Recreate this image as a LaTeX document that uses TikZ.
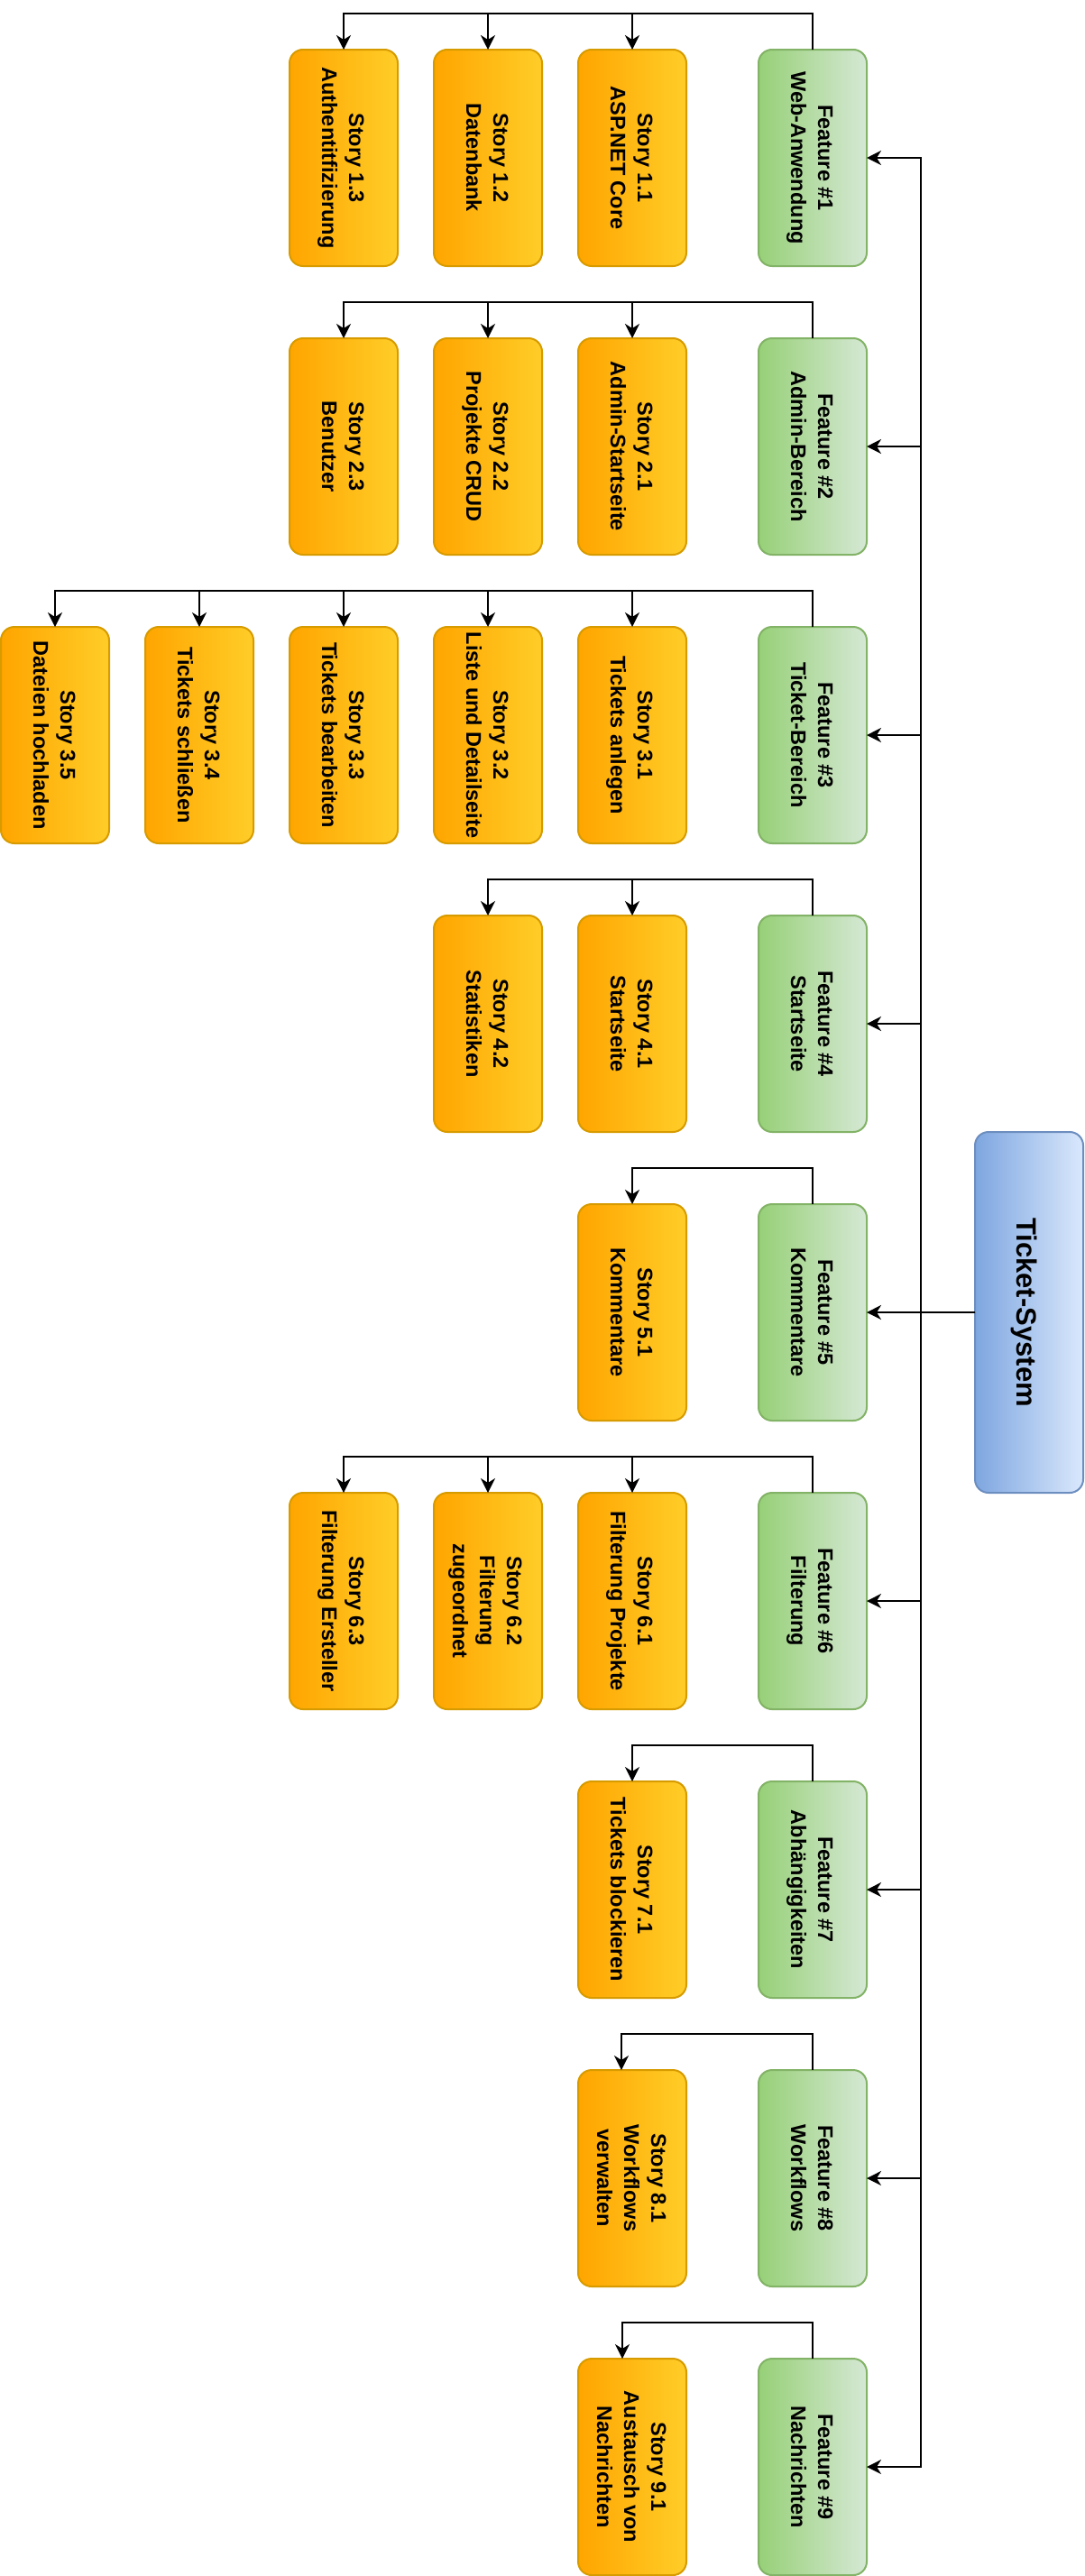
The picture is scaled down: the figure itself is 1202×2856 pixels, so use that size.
\documentclass[tikz,border=0pt]{standalone}
\usepackage{fontspec}
\setmainfont{Liberation Sans}
\usepackage{graphicx}
\usetikzlibrary{arrows.meta, positioning}
\definecolor{storylight}{HTML}{FFCD28}
\definecolor{storydark}{HTML}{FFA500}
\definecolor{storyline}{HTML}{D79B00}
\definecolor{featlight}{HTML}{D5E8D4}
\definecolor{featdark}{HTML}{97D077}
\definecolor{featline}{HTML}{82B366}
\definecolor{syslight}{HTML}{DAE8FC}
\definecolor{sysdark}{HTML}{7EA6E0}
\definecolor{sysline}{HTML}{6C8EBF}
\newcommand{\vlabel}[2][6pt]{\rotatebox{-90}{\begin{tabular}{@{}c@{}}#2\end{tabular}}\kern#1}

\begin{document}
\begin{tikzpicture}[node distance=80pt and 40pt, line width=2pt,
  card/.style={rounded corners=15pt, inner sep=0pt, outer sep=0pt,
    minimum width=120pt, minimum height=240pt,
    font=\bfseries\fontsize{23.5}{30}\selectfont},
  feature/.style={card, draw=featline, left color=featdark, right color=featlight},
  story/.style={card, draw=storyline, left color=storydark, right color=storylight},
  system/.style={card, minimum height=400pt, draw=sysline, left color=sysdark,
    right color=syslight, font=\bfseries\fontsize{31}{37}\selectfont},
  >={Stealth[length=16pt, width=16pt, inset=5pt]}]
  \useasboundingbox (0,0) rectangle (1202pt,-2856pt);

  % features
  \node[feature] (f1) at (901pt,-175pt) {\vlabel{Feature \#1\\Web-Anwendung}};
  \node[feature, below=of f1] (f2) {\vlabel{Feature \#2\\Admin-Bereich}};
  \node[feature, below=of f2] (f3) {\vlabel{Feature \#3\\Ticket-Bereich}};
  \node[feature, below=of f3] (f4) {\vlabel{Feature \#4\\Startseite}};
  \node[feature, below=of f4] (f5) {\vlabel{Feature \#5\\Kommentare}};
  \node[feature, below=of f5] (f6) {\vlabel{Feature \#6\\Filterung}};
  \node[feature, below=of f6] (f7) {\vlabel{Feature \#7\\Abhängigkeiten}};
  \node[feature, below=of f7] (f8) {\vlabel{Feature \#8\\Workflows}};
  \node[feature, below=of f8] (f9) {\vlabel{Feature \#9\\Nachrichten}};

  \node[system, right=120pt of f5] (ts) {\vlabel[12pt]{Ticket-System}};

  % stories
  \node[story, left=80pt of f1] (s11) {\vlabel{Story 1.1\\ASP.NET Core}};
  \node[story, left=of s11] (s12) {\vlabel{Story 1.2\\Datenbank}};
  \node[story, left=of s12] (s13) {\vlabel{Story 1.3\\Authentitfizierung}};

  \node[story, left=80pt of f2] (s21) {\vlabel{Story 2.1\\Admin-Startseite}};
  \node[story, left=of s21] (s22) {\vlabel{Story 2.2\\Projekte CRUD}};
  \node[story, left=of s22] (s23) {\vlabel{Story 2.3\\Benutzer}};

  \node[story, left=80pt of f3] (s31) {\vlabel{Story 3.1\\Tickets anlegen}};
  \node[story, left=of s31] (s32) {\vlabel{Story 3.2\\Liste und Detailseite}};
  \node[story, left=of s32] (s33) {\vlabel{Story 3.3\\Tickets bearbeiten}};
  \node[story, left=of s33] (s34) {\vlabel{Story 3.4\\Tickets schließen}};
  \node[story, left=of s34] (s35) {\vlabel{Story 3.5\\Dateien hochladen}};

  \node[story, left=80pt of f4] (s41) {\vlabel{Story 4.1\\Startseite}};
  \node[story, left=of s41] (s42) {\vlabel{Story 4.2\\Statistiken}};

  \node[story, left=80pt of f5] (s51) {\vlabel{Story 5.1\\Kommentare}};

  \node[story, left=80pt of f6] (s61) {\vlabel{Story 6.1\\Filterung Projekte}};
  \node[story, left=of s61] (s62) {\vlabel{Story 6.2\\Filterung\\zugeordnet}};
  \node[story, left=of s62] (s63) {\vlabel{Story 6.3\\Filterung Ersteller}};

  \node[story, left=80pt of f7] (s71) {\vlabel{Story 7.1\\Tickets blockieren}};
  \node[story, left=80pt of f8] (s81) {\vlabel{Story 8.1\\Workflows\\verwalten}};
  \node[story, left=80pt of f9] (s91) {\vlabel{Story 9.1\\Austausch von\\Nachrichten}};

  % connectors
  \foreach \i in {1,...,9}
    \draw[->] (ts.west) -- ++(-60pt,0) |- (f\i.east);
  \foreach \f/\s in {f1/s11,f1/s12,f1/s13,f2/s21,f2/s22,f2/s23,
      f3/s31,f3/s32,f3/s33,f3/s34,f3/s35,f4/s41,f4/s42,f5/s51,
      f6/s61,f6/s62,f6/s63,f7/s71}
    \draw[->] (\f.north) -- ++(0,40pt) -| (\s.north);
  \draw[->] (f8.north) -- ++(0,40pt) -| ([xshift=-12pt]s81.north);
  \draw[->] (f9.north) -- ++(0,40pt) -| ([xshift=-11pt]s91.north);
\end{tikzpicture}
\end{document}
